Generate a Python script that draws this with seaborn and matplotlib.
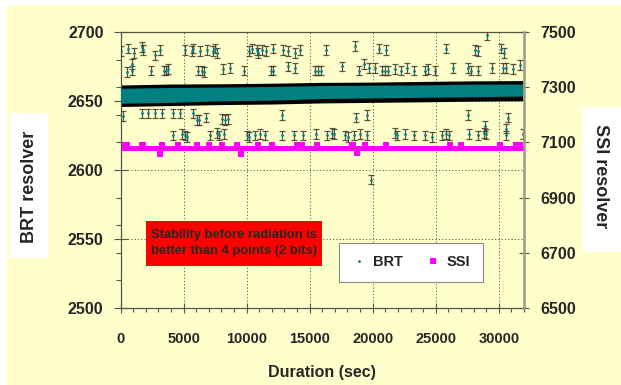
import matplotlib
matplotlib.use("Agg")
import matplotlib.pyplot as plt
import seaborn as sns
import pandas as pd
from matplotlib.patches import Rectangle
from matplotlib.lines import Line2D
from matplotlib.ticker import MultipleLocator

# ---------------- data ----------------
# dense BRT readings: envelope of the marker cloud and of its error bars
band_t = [0, 4000, 8000, 12000, 16000, 20000, 24000, 28000, 31900]
band_lo = [2648.4, 2649.0, 2650.2, 2650.6, 2651.8, 2652.2, 2652.7, 2653.1, 2653.6]
band_hi = [2659.2, 2659.8, 2660.1, 2660.5, 2661.2, 2661.5, 2661.7, 2662.2, 2662.3]
band_err_lo = [2646.0, 2646.7, 2647.4, 2647.8, 2648.6, 2649.0, 2649.4, 2649.9, 2650.2]
band_err_hi = [2661.6, 2662.3, 2662.5, 2662.9, 2663.5, 2663.7, 2664.2, 2664.6, 2664.8]

# isolated BRT readings (sec, counts)
brt_t = [
    20, 620, 1070, 1680, 1780, 2730, 3130, 5110, 5640, 5750, 6300, 6830, 7310, 7490,
    7670, 10210, 10400, 10840, 10920, 11190, 11530, 12110, 12900, 13300, 13830, 14220,
    16280, 18580, 20510, 21040, 25850, 28090, 28350, 29100, 30210, 30390,
    490, 935, 935, 2390, 3450, 3610, 3790, 6170, 6430, 6620, 8150, 8680, 9790, 11900,
    12110, 13300, 13830, 15410, 15670, 15940, 17530, 18920, 19300, 19720, 20170, 20700,
    20960, 21220, 21750, 22280, 22730, 23260, 24130, 24390, 24920, 26370, 27560, 27830,
    28350, 29490, 30330, 30600, 31130, 31660,
    170, 1680, 2200, 2730, 3270, 4180, 4720, 5770, 6040, 6240, 6780, 8020, 8280, 8540,
    12770, 18660, 19510, 27560, 28880, 30600, 30730,
    4180, 4850, 5110, 5290, 7090, 7670, 7830, 8200, 10000, 10210, 10660, 11050, 11450,
    12770, 13750, 14440, 15490, 16340, 16740, 16940, 17790, 18050, 18500, 19030, 19510,
    21750, 21930, 22570, 23260, 24130, 24740, 25530, 25850, 26030, 27640, 28350, 28830,
    29020, 30600, 31920,
    19840,
]
brt_v = [
    2686, 2688, 2685, 2689, 2687, 2683, 2687, 2687, 2686, 2688, 2686, 2687, 2686, 2688,
    2685, 2686, 2688, 2687, 2685, 2687, 2686, 2688, 2687, 2686, 2685, 2687,
    2687, 2690, 2688, 2687, 2688, 2687, 2686, 2698, 2688, 2685,
    2671, 2677, 2672, 2672, 2672, 2672, 2673, 2672, 2672, 2671, 2673, 2674, 2672, 2672,
    2672, 2675, 2674, 2672, 2672, 2672, 2675, 2672, 2677, 2674, 2674, 2672, 2672, 2672,
    2673, 2672, 2674, 2672, 2672, 2673, 2672, 2674, 2674, 2672,
    2672, 2674, 2674, 2674, 2673, 2676,
    2639, 2641, 2641, 2641, 2641, 2641, 2641, 2641, 2636, 2636, 2638, 2637, 2636, 2637,
    2640, 2638, 2640, 2640, 2632, 2630, 2638,
    2625, 2626, 2625, 2624, 2625, 2627, 2625, 2626, 2625, 2624, 2625, 2626, 2625,
    2625, 2625, 2625, 2626, 2625, 2627, 2626, 2625, 2624, 2625, 2626, 2625,
    2627, 2625, 2626, 2625, 2625, 2624, 2625, 2626, 2625, 2626, 2625, 2627,
    2626, 2625, 2626,
    2593,
]
brt_err = 3.5

# SSI readings: steady level plus the samples that step off it
ssi_span = [0, 31900]
ssi_level = 7081
ssi_t = [360, 490, 1680, 1810, 3265, 4580, 6040, 7040, 8020, 9210, 10920, 11980, 13960,
         14360, 15550, 18320, 18450, 19370, 21040, 26110, 27040, 30070, 31390, 31660,
         3130, 9550, 18720]
ssi_v = [7092, 7092, 7092, 7092, 7092, 7092, 7092, 7092, 7092, 7092, 7092, 7092, 7092,
         7092, 7092, 7092, 7092, 7092, 7092, 7092, 7092, 7092, 7092, 7092,
         7059, 7059, 7060]

x_ticks = [0, 5000, 10000, 15000, 20000, 25000, 30000]
brt_ticks = [2500, 2550, 2600, 2650, 2700]
ssi_ticks = [6500, 6700, 6900, 7100, 7300, 7500]

# ---------------- style ----------------
sns.set_theme(style="ticks")
FONT = ["Liberation Sans", "DejaVu Sans"]
plt.rcParams["font.family"] = FONT
plt.rcParams["font.weight"] = "bold"

W, H = 621, 385
YELLOW = "#FFFFCC"
TEAL = "#008080"
MAGENTA = "#FF00FF"
AXIS = "#55554a"


def fx(px):
    return px / W


def fy(py):
    return 1 - py / H


fig = plt.figure(figsize=(W / 100, H / 100), dpi=100, facecolor="white")
fig.add_artist(Rectangle((fx(7), 0), 1 - fx(7), fy(5), transform=fig.transFigure,
                         facecolor=YELLOW, edgecolor="none", zorder=-10))

L, R, T, B = 120.5, 524, 32, 308
ax = fig.add_axes([fx(L), fy(B), (R - L) / W, (B - T) / H])
ax.set_facecolor("none")


def ax_x(px):
    return (px - L) / (R - L)


def ax_y(py):
    return (B - py) / (B - T)


# dense BRT cloud
ax.fill_between(band_t, band_err_lo, band_err_hi, color="black", lw=0, zorder=2)
ax.fill_between(band_t, band_lo, band_hi, color=TEAL, lw=0, zorder=3)

# isolated BRT readings with error bars
brt = pd.DataFrame({"t": brt_t, "v": brt_v})
ax.errorbar(brt["t"], brt["v"], yerr=brt_err, fmt="none", ecolor="#3a3a30",
            elinewidth=0.9, capsize=2.3, capthick=0.9, alpha=0.85, zorder=4)
sns.scatterplot(data=brt, x="t", y="v", ax=ax, color=TEAL, marker="o", s=4,
                linewidth=0, zorder=5, legend=False)

ax.set_xlim(0, 32000)
ax.set_ylim(2500, 2700)
ax.set_xticks(x_ticks)
ax.set_yticks(brt_ticks)
ax.xaxis.set_minor_locator(MultipleLocator(1000))
ax.yaxis.set_minor_locator(MultipleLocator(20))
ax.grid(True, which="major", color="#5a5a50", linestyle=(0, (1.2, 2.2)), lw=0.7)

ax.tick_params(axis="x", which="major", direction="inout", length=6.5, width=0.8,
               color=AXIS, pad=14, labelsize=10.5)
ax.tick_params(axis="x", which="minor", direction="out", length=3, width=0.8, color=AXIS)
ax.tick_params(axis="y", which="major", direction="inout", length=9.4, width=0.8,
               color=AXIS, pad=7.5, labelsize=11.5)
ax.tick_params(axis="y", which="minor", direction="out", length=3.6, width=0.8, color=AXIS)
for lab in ax.get_xticklabels() + ax.get_yticklabels():
    lab.set_fontweight("bold")

for side in ["left", "bottom", "top"]:
    ax.spines[side].set_color(AXIS)
    ax.spines[side].set_linewidth(0.9)
ax.spines["right"].set_visible(False)

ax.set_ylabel("")
ax.set_xlabel("Duration (sec)", fontsize=11.5, fontweight="bold", va="center")
ax.xaxis.set_label_coords(0.5, ax_y(372))

# SSI on the secondary axis
ax2 = ax.twinx()
ax2.set_ylim(6500, 7500)
ax2.set_yticks(ssi_ticks)
sns.lineplot(x=ssi_span, y=[ssi_level, ssi_level], ax=ax2, color=MAGENTA, lw=3.6,
             solid_capstyle="butt", zorder=6, legend=False)
ssi = pd.DataFrame({"t": ssi_t, "v": ssi_v})
sns.scatterplot(data=ssi, x="t", y="v", ax=ax2, color=MAGENTA, marker="s", s=16,
                linewidth=0, zorder=7, legend=False)
ax2.set_xlabel("")
ax2.set_ylabel("")
ax2.tick_params(axis="y", which="major", direction="inout", length=7, width=0.8,
                color=AXIS, pad=8.5, labelsize=11.5)
for lab in ax2.get_yticklabels():
    lab.set_fontweight("bold")
for side in ["left", "bottom", "top"]:
    ax2.spines[side].set_visible(False)
ax2.spines["right"].set_color("#9a9a85")
ax2.spines["right"].set_linewidth(1.8)

# axis titles in white boxes
fig.add_artist(Rectangle((fx(10), fy(258)), fx(48 - 10), (258 - 113) / H,
                         transform=fig.transFigure, facecolor="white",
                         edgecolor="none", zorder=1))
fig.text(fx(29), fy(187), "BRT resolver", rotation=90, ha="center", va="center",
         fontsize=13, fontweight="bold", zorder=2)
fig.add_artist(Rectangle((fx(583), fy(252)), fx(621 - 583), (252 - 107) / H,
                         transform=fig.transFigure, facecolor="white",
                         edgecolor="none", zorder=1))
fig.text(fx(600), fy(176), "SSI resolver", rotation=270, ha="center", va="center",
         fontsize=13, fontweight="bold", zorder=2)

# annotation in a red box
ax.add_patch(Rectangle((ax_x(146), ax_y(266)), ax_x(322) - ax_x(146),
                       ax_y(221) - ax_y(266), transform=ax.transAxes,
                       facecolor="#FF0000", edgecolor="none", zorder=8))
ax.text(ax_x(234), ax_y(243), "Stability before radiation is\nbetter than 4 points (2 bits)",
        transform=ax.transAxes, ha="center", va="center", fontsize=9.4,
        fontweight="bold", linespacing=1.5, zorder=9)

# legend
handles = [
    Line2D([], [], linestyle="none", marker="o", markersize=2, color=TEAL,
           markeredgewidth=0, label="BRT"),
    Line2D([], [], linestyle="none", marker="s", markersize=4.5, color=MAGENTA,
           markeredgewidth=0, label="SSI"),
]
leg = ax2.legend(handles=handles, loc="upper left", bbox_to_anchor=(fx(339), fy(243)),
                 bbox_transform=fig.transFigure, ncol=2, frameon=True, fancybox=False,
                 edgecolor="#8a8a8a", framealpha=1, borderpad=0.85, borderaxespad=0,
                 handlelength=1.1, handletextpad=0.4, columnspacing=1.5,
                 prop={"weight": "bold", "size": 10.5, "family": FONT})
leg.get_frame().set_linewidth(0.8)
leg.set_zorder(20)

fig.savefig("out.png", dpi=100, facecolor=fig.get_facecolor())
